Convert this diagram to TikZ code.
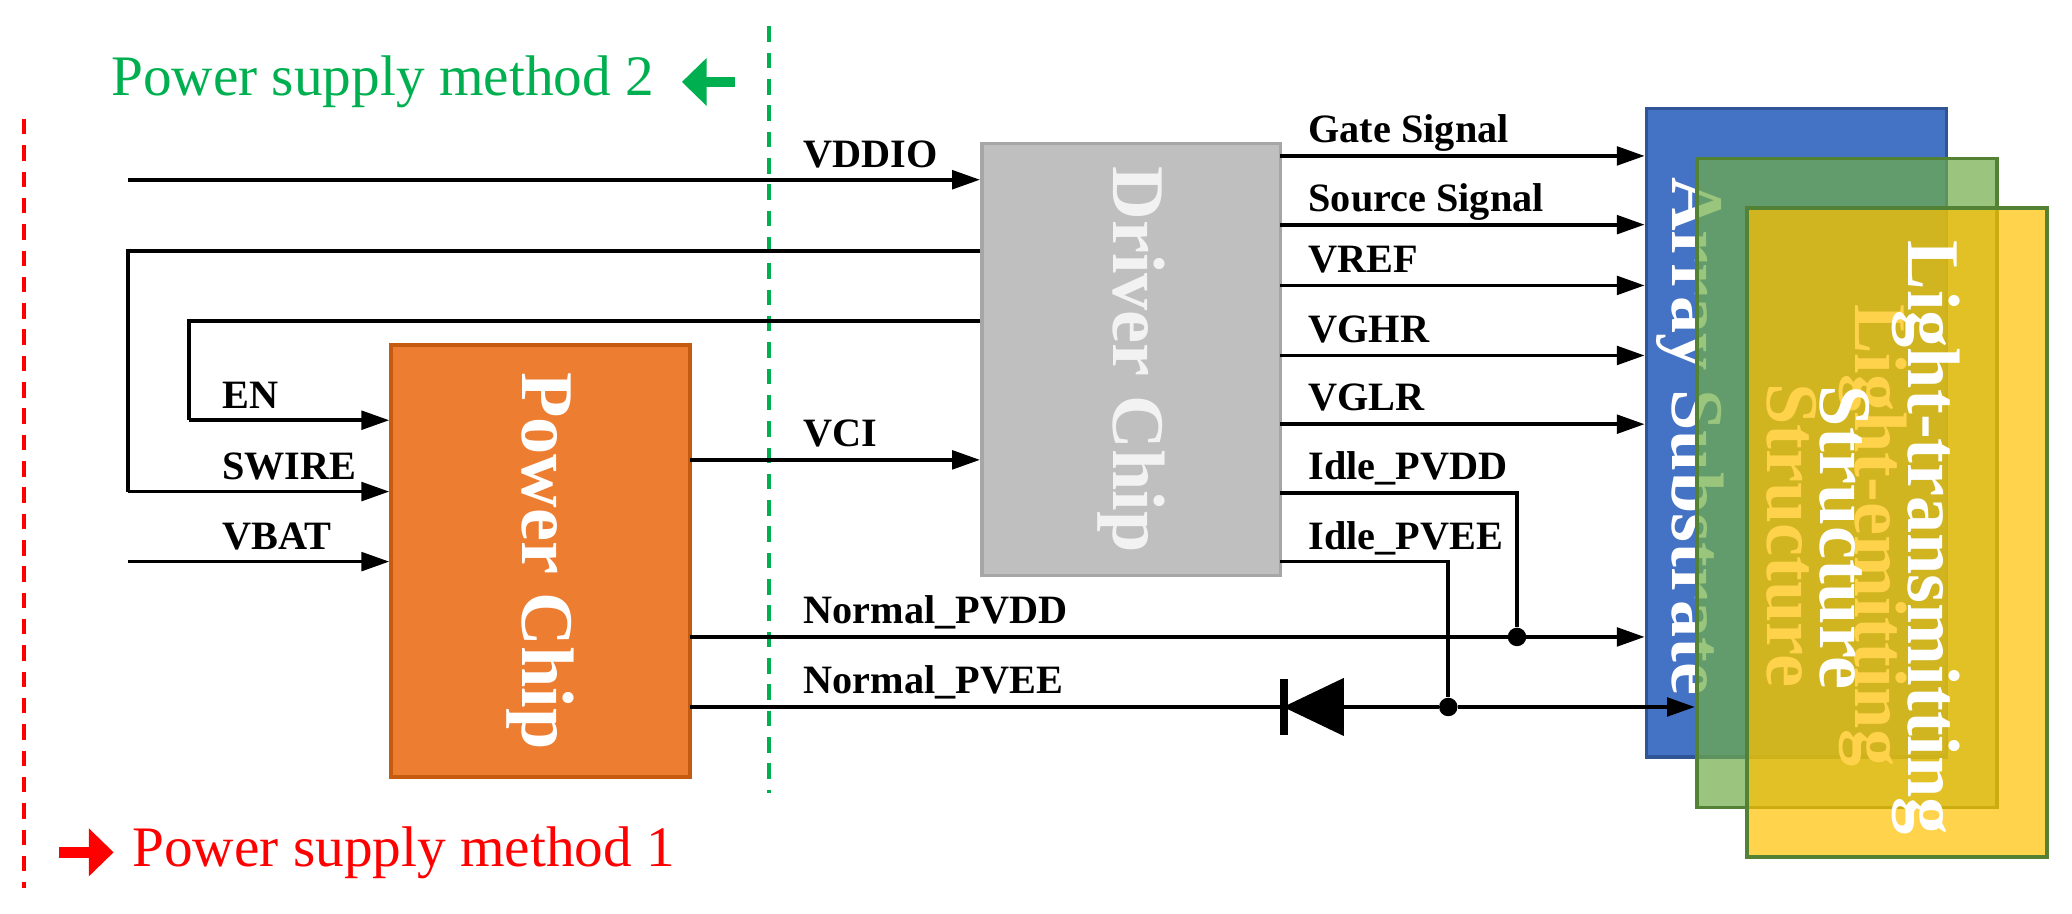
\documentclass[tikz,border=0pt]{standalone}
\usepackage{fontspec}
\setmainfont{Liberation Serif}
\usetikzlibrary{arrows.meta}
\definecolor{pgreen}{HTML}{00B050}
\definecolor{pred}{HTML}{FF0000}
\definecolor{chipor}{HTML}{ED7D31}
\definecolor{chipord}{HTML}{C55A11}
\definecolor{chipgr}{HTML}{BFBFBF}
\definecolor{chipgrd}{HTML}{A6A6A6}
\definecolor{arrblue}{HTML}{4472C4}
\definecolor{arrblued}{HTML}{2F5597}
\definecolor{lgreen}{HTML}{70AD47}
\definecolor{lgreend}{HTML}{548235}
\definecolor{lyellow}{HTML}{FFC000}
\tikzset{
  sig/.style={line width=2.4pt,-{Triangle[length=18pt,width=12pt]}},
  wire/.style={line width=2.4pt},
  lbl/.style={font=\fontsize{26}{28}\selectfont\bfseries,anchor=base west,inner sep=0pt},
  bigtxt/.style={font=\fontsize{48}{57}\selectfont\bfseries,text=white,rotate=-90,align=center},
  chip/.style={line width=2.4pt,minimum width=226*0.03cm,minimum height=327*0.03cm,inner sep=0pt},
  layer/.style={line width=2.4pt,minimum width=227*0.03cm,minimum height=491*0.03cm,inner sep=0pt},
  translayer/.style={layer,fill opacity=0.7,text opacity=1},
  dot/.style={circle,fill=black,inner sep=0pt,minimum size=14*0.03cm}
}
\begin{document}
\begin{tikzpicture}[x=0.03cm,y=-0.03cm]
\useasboundingbox (0,0) rectangle (1568,691);
% dashed dividers
\draw[pgreen,line width=2.4pt,dash pattern=on 10pt off 7pt] (582,20) coordinate (g1) -- (582,600) coordinate (g2);
\draw[pred,line width=2.4pt,dash pattern=on 10pt off 7pt] (18,90) coordinate (r1) -- (18,672) coordinate (r2);
\node[text=pgreen,font=\fontsize{37}{40}\selectfont,anchor=west,inner sep=0pt] (m2) at (84,62) {Power supply method 2};
\coordinate (ga1) at (556,62); \coordinate (ga2) at (516,62);
\draw[pgreen,line width=7pt,-{Triangle[length=16pt,width=30pt]}] (ga1) -- (ga2);
\node[text=pred,font=\fontsize{37}{40}\selectfont,anchor=west,inner sep=0pt] (m1) at (100,645) {Power supply method 1};
\coordinate (ra1) at (45,645); \coordinate (ra2) at (86,645);
\draw[pred,line width=7pt,-{Triangle[length=16pt,width=30pt]}] (ra1) -- (ra2);
% chips
\node[chip,fill=chipor,draw=chipord] (pc) at (409,424.5) {};
\node[bigtxt] at (pc) {Power Chip};
\node[chip,fill=chipgr,draw=chipgrd] (dc) at (856,272) {};
\node[bigtxt,text=white!95!black] at (dc) {Driver Chip};
% layers
\node[layer,fill=arrblue,draw=arrblued] (as) at (1359.5,327.5) {};
\node[bigtxt] at (1279,330) {Array Substrate};
\node[translayer,fill=lgreen,draw=lgreend,draw opacity=1] (le) at (1397.5,365.5) {};
\node[bigtxt] at (1390,405) {Light-emitting\\Structure};
\node[translayer,fill=lyellow,draw=lgreend,draw opacity=1] (lt) at (1435.5,403) {};
\node[bigtxt] at (1430,407) {Light-transmitting\\Structure};
% inputs
\coordinate (i1) at (97,136);
\draw[sig] (i1) -- (i1 -| dc.west);
\node[lbl] at (608,127) {VDDIO};
\coordinate (i2) at (97,190);
\draw[wire] (i2 -| dc.west) -- (i2) -- (97,372) coordinate (i2b);
\draw[sig] (i2b) -- (i2b -| pc.west);
\coordinate (i3) at (143,243);
\draw[wire] (i3 -| dc.west) -- (i3) -- (143,318) coordinate (i3b);
\draw[sig] (i3b) -- (i3b -| pc.west);
\coordinate (i4) at (97,425);
\draw[sig] (i4) -- (i4 -| pc.west);
\node[lbl] at (168,309) {EN};
\node[lbl] at (168,363) {SWIRE};
\node[lbl] at (168,416) {VBAT};
\coordinate (vci) at (522,348);
\draw[sig] (vci) -- (vci -| dc.west);
\node[lbl] at (608,338) {VCI};
% driver outputs
\foreach \yy/\tt in {118/Gate Signal,170/Source Signal,216/VREF,269/VGHR,321/VGLR}{
  \coordinate (o) at (969,\yy);
  \draw[sig] (o) -- (o -| as.west);
  \node[lbl] at (990,\yy-10) {\tt};
}
% idle / normal
\node[dot] (d1) at (1148,482) {};
\node[dot] (d2) at (1096,535) {};
\coordinate (ip1) at (969,373);
\coordinate (ip2) at (969,425);
\draw[wire] (ip1) -- (ip1 -| d1) -- (d1);
\draw[wire] (ip2) -- (ip2 -| d2) -- (d2);
\node[lbl] at (990,363) {Idle\_PVDD};
\node[lbl] at (990,416) {Idle\_PVEE};
\coordinate (np1) at (522,482);
\draw[sig] (np1) -- (np1 -| as.west);
\node[lbl] at (608,472) {Normal\_PVDD};
\coordinate (np2) at (522,535);
\coordinate (dk) at (971,535);
\coordinate (da) at (1017,535);
\draw[wire] (np2) -- (dk);
\draw[wire] (da) -- (d2);
\draw[sig] (d2) -- (d2 -| le.west);
\fill (da) ++(0,-22) -- (dk) -- ++(46,22) -- cycle;
\fill (969,514) rectangle (975,556);
\node[lbl] at (608,525) {Normal\_PVEE};
\end{tikzpicture}
\end{document}
